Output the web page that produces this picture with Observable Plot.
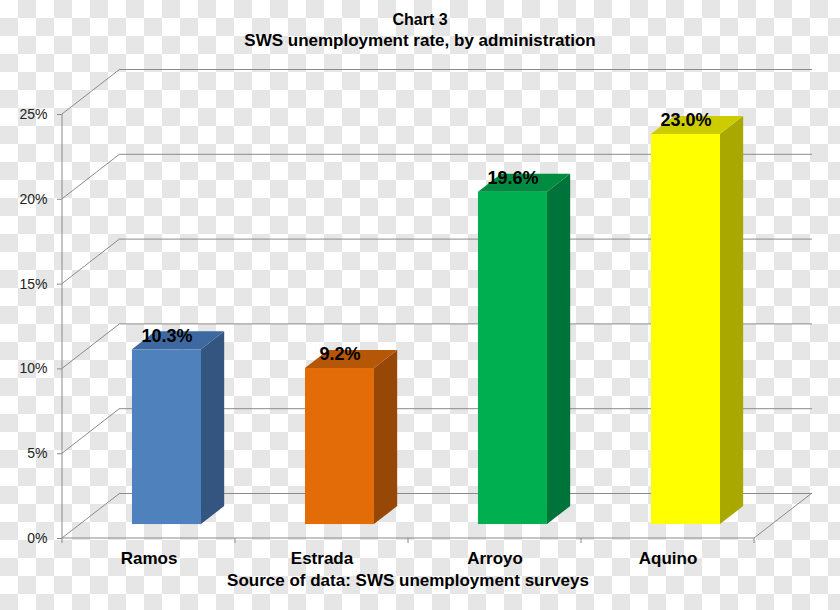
<!DOCTYPE html>
<html>
<head>
<meta charset="utf-8">
<script src="https://cdn.jsdelivr.net/npm/d3@7"></script>
<script src="https://cdn.jsdelivr.net/npm/@observablehq/plot@0.6"></script>
<style>
  html, body { margin: 0; padding: 0; background: #ffffff; }
  body {
    position: relative;
    width: 840px; height: 610px; overflow: hidden;
    font-family: "Liberation Sans", Arial, sans-serif;
  }
  #bg { position: absolute; left: 0; top: 0; z-index: 0; }
  #page { position: relative; z-index: 1; }
  #title {
    box-sizing: border-box; height: 60px; padding-top: 9px;
    text-align: center; font-weight: bold; font-size: 16px; line-height: 21px; color: #000;
  }
  #title .sub { font-size: 17px; }
  #caption {
    box-sizing: border-box; height: 40px; padding-right: 24px;
    text-align: center; font-weight: bold; font-size: 17px; line-height: 22px; color: #000;
  }
</style>
</head>
<body>
<svg id="bg" width="840" height="610" xmlns="http://www.w3.org/2000/svg">
  <defs>
    <pattern id="checker" x="0" y="0" width="36" height="36" patternUnits="userSpaceOnUse">
      <rect width="36" height="36" fill="#ffffff"/>
      <rect x="18" y="0" width="18" height="18" fill="#e6e6e6"/>
      <rect x="0" y="18" width="18" height="18" fill="#e6e6e6"/>
    </pattern>
  </defs>
  <rect width="840" height="610" fill="url(#checker)"/>
</svg>
<div id="page">
<div id="title">Chart 3<br><span class="sub">SWS unemployment rate, by administration</span></div>
<div id="chart"></div>
<div id="caption">Source of data: SWS unemployment surveys</div>
</div>
<script>
// ---- data ----
const categories = ["Ramos", "Estrada", "Arroyo", "Aquino"];
const rates = [10.3, 9.2, 19.6, 23.0];
const yTicks = [0, 5, 10, 15, 20, 25];
const yTickLabels = ["0%", "5%", "10%", "15%", "20%", "25%"];
const frontColors = ["#4f81bd", "#e36c09", "#00b050", "#ffff00"];
const topColors = ["#3e69a0", "#b65607", "#008c40", "#cccc00"];
const sideColors = ["#34557f", "#974806", "#00733a", "#a8a800"];

// ---- 3D look (pixels) ----
const depth = [58, -45];               // back-wall offset
const barFront = 0.31, barBack = 0.71; // bar depth span as fraction of depth
const barInset = 52;

const data = categories.map((c, i) => ({
  category: c, rate: rates[i], front: frontColors[i], top: topColors[i], side: sideColors[i]
}));

const grid = "#8a8a8a";

function bandwidthOf(scales, dim) {
  const b = scales.x.bandwidth;
  if (typeof b === "function") return b();
  if (typeof b === "number") return b;
  return (dim.width - dim.marginLeft - dim.marginRight) / categories.length;
}

function walls(index, scales, values, dim) {
  const g = d3.create("svg:g").attr("fill", "none").attr("stroke", grid).attr("stroke-width", 1);
  const x0 = dim.marginLeft, x1 = dim.width - dim.marginRight;
  const y0 = scales.y(0);
  for (const t of yTicks) {
    const y = scales.y(t);
    g.append("line").attr("x1", x0).attr("y1", y).attr("x2", x0 + depth[0]).attr("y2", y + depth[1]);
  }
  g.append("line").attr("x1", x1).attr("y1", y0).attr("x2", x1 + depth[0]).attr("y2", y0 + depth[1]);
  g.append("line").attr("x1", x0).attr("y1", scales.y(yTicks[yTicks.length - 1])).attr("x2", x0).attr("y2", y0);
  g.append("line").attr("x1", x0).attr("y1", y0).attr("x2", x1).attr("y2", y0);
  const bounds = categories.map(c => scales.x(c)).concat([x1]);
  for (const b of bounds) {
    g.append("line").attr("x1", b).attr("y1", y0).attr("x2", b).attr("y2", y0 + 5);
  }
  return g.node();
}

function bars3d(index, scales, values, dim) {
  const g = d3.create("svg:g");
  const bw = bandwidthOf(scales, dim);
  const fx = depth[0] * barFront, fy = depth[1] * barFront;
  const bx = depth[0] * (barBack - barFront), by = depth[1] * (barBack - barFront);
  for (const d of data) {
    const L = scales.x(d.category) + barInset + fx;
    const R = scales.x(d.category) + bw - barInset + fx;
    const T = scales.y(d.rate) + fy;
    const B = scales.y(0) + fy;
    g.append("path").attr("fill", d.side)
      .attr("d", `M${R},${B}L${R},${T}L${R + bx},${T + by}L${R + bx},${B + by}Z`);
    g.append("path").attr("fill", d.top)
      .attr("d", `M${L},${T}L${R},${T}L${R + bx},${T + by}L${L + bx},${T + by}Z`);
  }
  return g.node();
}

const chart = Plot.plot({
  width: 840,
  height: 510,
  marginLeft: 62,
  marginRight: 86,
  marginTop: 54,
  marginBottom: 32,
  style: { background: "transparent", fontFamily: "'Liberation Sans', Arial, sans-serif", color: "#000" },
  x: { domain: categories, padding: 0, label: null },
  y: { domain: [0, 25], label: null },
  color: { type: "identity" },
  marks: [
    Plot.ruleY(yTicks, { dx: depth[0], dy: depth[1], stroke: grid }),
    walls,
    Plot.barY(data, { x: "category", y: "rate", fill: "front", insetLeft: barInset, insetRight: barInset,
      dx: depth[0] * barFront, dy: depth[1] * barFront }),
    bars3d,
    Plot.axisY({ ticks: yTicks, tickFormat: d => yTickLabels[yTicks.indexOf(d)], tickSize: 5, tickPadding: 10,
      fontSize: 14, stroke: grid, fill: "#222" }),
    Plot.axisX({ tickSize: 0, tickPadding: 13, fontSize: 17, fontWeight: "bold", fill: "#000" }),
    Plot.text(data, { x: "category", y: "rate", text: d => d.rate.toFixed(1) + "%",
      dx: depth[0] * barFront, dy: -28, fontSize: 18, fontWeight: "bold", fill: "#000" })
  ]
});
document.getElementById("chart").appendChild(chart);
</script>
</body>
</html>
